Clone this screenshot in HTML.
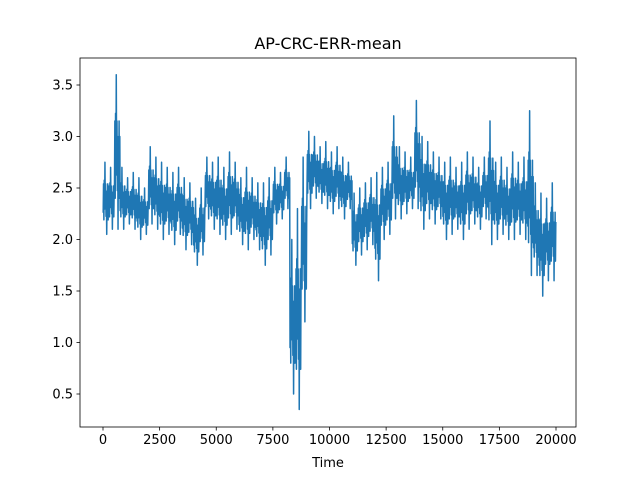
<!DOCTYPE html>
<html><head><meta charset="utf-8"><style>
html,body{margin:0;padding:0;background:#fff}
text{font-family:"DejaVu Sans","Liberation Sans",sans-serif;fill:#000}
</style></head><body>
<svg id="chart" width="640" height="480" xmlns="http://www.w3.org/2000/svg">
<rect x="0" y="0" width="640" height="480" fill="#fff"/>
<text x="328" y="49" font-size="16" text-anchor="middle">AP-CRC-ERR-mean</text>
<text x="328" y="467" font-size="13" text-anchor="middle">Time</text>
<g id="plot"></g>
</svg>
<script>
const bucketSize = 250;
const highs = [2.75,2.7,3.6,2.7,2.6,2.65,2.6,2.5,2.9,2.8,
2.75,2.7,2.65,2.7,2.6,2.55,2.4,2.5,2.8,2.75,
2.8,2.7,2.85,2.75,2.6,2.7,2.6,2.55,2.55,2.6,
2.7,2.65,2.8,2.0,2.3,2.8,3.05,3.0,2.9,2.95,
2.85,2.9,2.8,2.75,2.45,2.5,2.55,2.6,2.65,2.7,
2.75,3.2,2.9,2.85,2.8,3.35,3.0,2.95,2.85,2.8,
2.75,2.8,2.7,2.75,2.85,2.8,2.7,2.8,3.15,2.75,
2.8,2.7,2.85,2.75,2.8,3.25,2.55,2.45,2.4,2.55];
const lows = [2.05,2.1,2.1,2.1,2.15,2.1,2.0,2.05,2.15,2.1,
2.0,2.05,1.95,2.05,1.9,1.95,1.75,1.85,2.2,2.1,
2.05,2.0,2.05,2.1,1.95,1.9,2.0,1.9,1.75,1.85,
2.15,2.2,2.3,0.5,0.35,1.2,2.3,2.4,2.35,2.3,
2.25,2.3,2.2,2.3,1.75,1.85,1.9,1.95,1.6,2.0,
2.05,2.2,2.2,2.25,2.3,2.3,2.1,2.2,2.15,2.2,
2.0,2.05,2.1,2.0,2.1,2.15,2.1,2.2,1.95,2.0,
2.05,2.0,2.0,2.05,2.0,1.65,1.65,1.45,1.6,1.6];
const xTicks = [0,2500,5000,7500,10000,12500,15000,17500,20000];
const yTicks = [0.5,1.0,1.5,2.0,2.5,3.0,3.5];

const L=80,R=576,T=58,B=427;
const xs = v => 103 + v*453/20000;
const ys = v => 394 - (v-0.5)*103;
const NS="http://www.w3.org/2000/svg";
const g=document.getElementById('plot');
function mk(tag,attrs){const e=document.createElementNS(NS,tag);for(const k in attrs)e.setAttribute(k,attrs[k]);g.appendChild(e);return e;}

// rendering pattern: fraction of the bucket's [low,high] range visited by each sub-step
const fill = [0.3,0.7,0.2,0.75,0.35,1.0,0.4,0.7,0.25,0.6,0.0,0.55,0.3,0.7,0.2,0.6];
let d="";
for(let i=0;i<highs.length;i++){
  const x0=i*bucketSize;
  const n=fill.length;
  for(let j=0;j<n;j++){
    const xv=x0+(j+0.5)*bucketSize/n;
    const yv=lows[i]+(highs[i]-lows[i])*fill[j];
    d+=((i===0&&j===0)?"M":"L")+xs(xv).toFixed(2)+","+ys(yv).toFixed(2);
  }
}
const line=mk('path',{d:d,fill:'none',stroke:'#1f77b4','stroke-width':1.5,'stroke-linejoin':'round'});



const frame=mk('rect',{x:L,y:T,width:R-L,height:B-T,fill:'none',stroke:'#000','stroke-width':0.8});



xTicks.forEach(v=>{
  const x=xs(v);
  const t=mk('line',{x1:x,x2:x,y1:B,y2:B+3.5,stroke:'#000','stroke-width':0.8});
  
  
  const lb=mk('text',{x:x,y:B+17,'font-size':13,'text-anchor':'middle'});
  lb.textContent=v;
  
  
});
yTicks.forEach(v=>{
  const y=ys(v);
  const t=mk('line',{x1:L-3.5,x2:L,y1:y,y2:y,stroke:'#000','stroke-width':0.8});
  
  
  const lb=mk('text',{x:L-7,y:y+4.5,'font-size':13,'text-anchor':'end'});
  lb.textContent=v.toFixed(1);
  
  
});
</script>
</body></html>
